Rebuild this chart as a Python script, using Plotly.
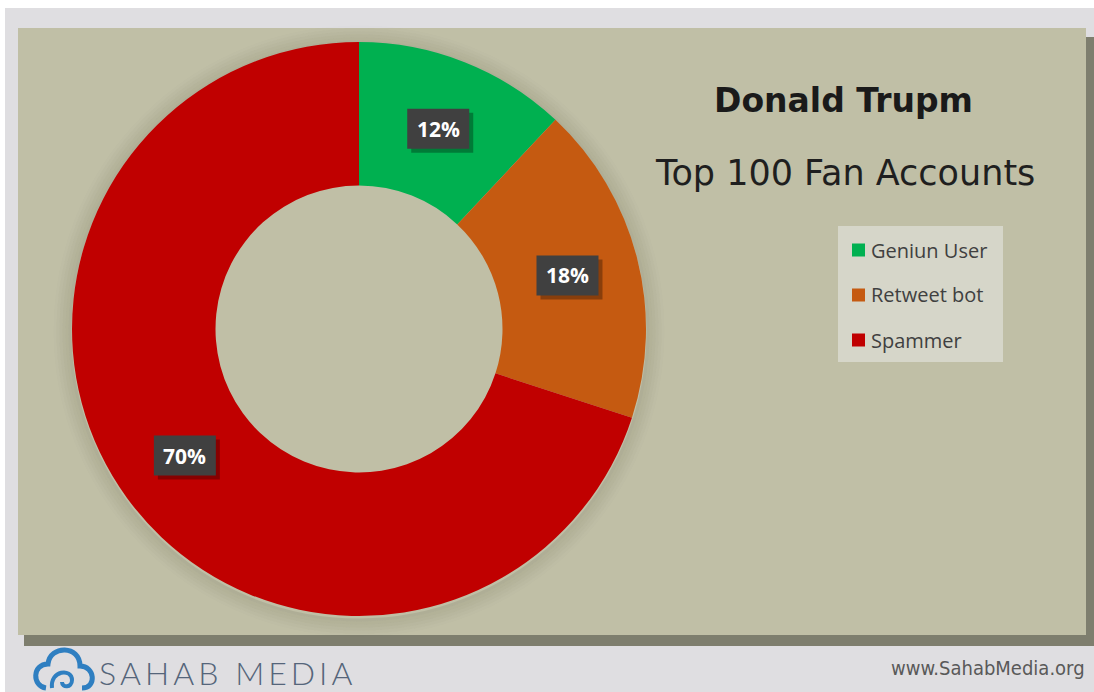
import math
import plotly.graph_objects as go

# ---- data ----
labels = ["Geniun User", "Retweet bot", "Spammer"]
values = [12, 18, 70]
colors = ["#00b050", "#c55a11", "#c00000"]
title_line1 = "Donald Trupm"
title_line2 = "Top 100 Fan Accounts"
brand = "SAHAB MEDIA"
site = "www.SahabMedia.org"

W, H = 1094, 692

def px2x(p):
    return p / W

def px2y(p):
    return 1 - p / H

# pie geometry (pixels -> paper)
pie_left, pie_right, pie_top, pie_bottom = 72, 646, 42, 616
dom_x = [px2x(pie_left), px2x(pie_right)]
dom_y = [px2y(pie_bottom), px2y(pie_top)]
cx_px = (pie_left + pie_right) / 2
cy_px = (pie_top + pie_bottom) / 2
R_px = (pie_right - pie_left) / 2

fig = go.Figure()
fig.add_trace(go.Pie(
    labels=labels, values=values, sort=False, direction="clockwise", rotation=0,
    hole=0.5, marker=dict(colors=colors, line=dict(width=0)),
    textinfo="none", domain=dict(x=dom_x, y=dom_y), showlegend=False,
))

shapes = []
# white page edges
shapes.append(dict(type="rect", xref="paper", yref="paper", layer="below",
                   x0=0, x1=1, y0=px2y(8), y1=1, fillcolor="white", line=dict(width=0)))
shapes.append(dict(type="rect", xref="paper", yref="paper", layer="below",
                   x0=0, x1=px2x(5), y0=0, y1=1, fillcolor="white", line=dict(width=0)))
# panel shadow and panel
shapes.append(dict(type="rect", xref="paper", yref="paper", layer="below",
                   x0=px2x(24), x1=px2x(1094), y0=px2y(646), y1=px2y(37),
                   fillcolor="#7e7e6e", line=dict(width=0)))
shapes.append(dict(type="rect", xref="paper", yref="paper", layer="below",
                   x0=px2x(18), x1=px2x(1086), y0=px2y(635), y1=px2y(28),
                   fillcolor="#c0bfa6", line=dict(width=0)))
# soft glow ring around the doughnut (outline only)
for k in range(1, 7):
    rr = R_px + 3 * k - 1
    shapes.append(dict(type="circle", xref="paper", yref="paper", layer="below",
                       x0=px2x(cx_px - rr), x1=px2x(cx_px + rr),
                       y0=px2y(cy_px + rr + 2), y1=px2y(cy_px - rr + 2),
                       line=dict(color=f"rgba(70,70,50,{0.16 - 0.025 * k:.3f})", width=3)))

annotations = []
# slice labels with dark boxes
total = sum(values)
cum = 0
bw, bh = 62, 40
for v in values:
    mid = (cum + v / 2) / total * 2 * math.pi
    cum += v
    r = 0.75 * R_px
    px = cx_px + r * math.sin(mid)
    py = cy_px - r * math.cos(mid)
    shapes.append(dict(type="rect", xref="paper", yref="paper",
                       x0=px2x(px - bw / 2 + 4), x1=px2x(px + bw / 2 + 4),
                       y0=px2y(py + bh / 2 + 4), y1=px2y(py - bh / 2 + 4),
                       fillcolor="rgba(0,0,0,0.30)", line=dict(width=0)))
    shapes.append(dict(type="rect", xref="paper", yref="paper",
                       x0=px2x(px - bw / 2), x1=px2x(px + bw / 2),
                       y0=px2y(py + bh / 2), y1=px2y(py - bh / 2),
                       fillcolor="#404040", line=dict(width=0)))
    annotations.append(dict(x=px2x(px), y=px2y(py), xref="paper", yref="paper",
                            xanchor="center", yanchor="middle",
                            text=f"<b>{v}%</b>", showarrow=False,
                            font=dict(size=21, color="white", family="Open Sans")))

# titles
annotations.append(dict(x=px2x(843), y=px2y(101), xref="paper", yref="paper", text=title_line1,
                        xanchor="center", yanchor="middle", showarrow=False,
                        font=dict(size=33, color="#1a1a1a", family="DejaVu Sans", weight="bold")))
annotations.append(dict(x=px2x(845), y=px2y(173), xref="paper", yref="paper", text=title_line2,
                        xanchor="center", yanchor="middle", showarrow=False,
                        font=dict(size=35, color="#1f1f1f", family="DejaVu Sans")))

# legend (manual)
shapes.append(dict(type="rect", xref="paper", yref="paper",
                   x0=px2x(838), x1=px2x(1003), y0=px2y(362), y1=px2y(226),
                   fillcolor="#d6d6c9", line=dict(width=0)))
for i, (lab, col) in enumerate(zip(labels, colors)):
    yc = 250 + i * 45
    shapes.append(dict(type="rect", xref="paper", yref="paper",
                       x0=px2x(852), x1=px2x(865), y0=px2y(yc + 6.5), y1=px2y(yc - 6.5),
                       fillcolor=col, line=dict(width=0)))
    annotations.append(dict(x=px2x(869), y=px2y(yc), xref="paper", yref="paper", text=lab,
                            xanchor="left", yanchor="middle", showarrow=False,
                            font=dict(size=20, color="#404040", family="Open Sans")))

# footer
annotations.append(dict(x=px2x(1087), y=px2y(668), xref="paper", yref="paper", text=site,
                        xanchor="right", yanchor="middle", showarrow=False,
                        font=dict(size=20, color="#595959", family="Liberation Sans Narrow, DejaVu Sans Condensed")))
annotations.append(dict(x=px2x(97), y=px2y(672), xref="paper", yref="paper",
                        text="\u2009".join(brand),
                        xanchor="left", yanchor="middle", showarrow=False,
                        font=dict(size=32, color="#55657a", family="Lato", weight=300)))
# cloud icon
shapes.append(dict(type="path", xref="paper", yref="paper",
                   path=f"M {px2x(46)},{px2y(688)} C {px2x(32)},{px2y(686)} {px2x(32)},{px2y(664)} {px2x(48)},{px2y(664)} "
                        f"C {px2x(50)},{px2y(645)} {px2x(80)},{px2y(645)} {px2x(80)},{px2y(666)} "
                        f"C {px2x(95)},{px2y(666)} {px2x(97)},{px2y(688)} {px2x(82)},{px2y(688)}",
                   line=dict(color="#2f7fc1", width=5)))
shapes.append(dict(type="path", xref="paper", yref="paper",
                   path=f"M {px2x(52)},{px2y(688)} C {px2x(50)},{px2y(670)} {px2x(72)},{px2y(668)} {px2x(72)},{px2y(680)} "
                        f"C {px2x(72)},{px2y(688)} {px2x(62)},{px2y(688)} {px2x(62)},{px2y(682)}",
                   line=dict(color="#2f7fc1", width=4)))

fig.update_layout(
    width=W, height=H, margin=dict(l=0, r=0, t=0, b=0),
    paper_bgcolor="#dfdee1", plot_bgcolor="#dfdee1",
    shapes=shapes, annotations=annotations,
)
fig.write_html("out.html", config={"displayModeBar": False},
               post_script="document.body.style.margin='0';")
